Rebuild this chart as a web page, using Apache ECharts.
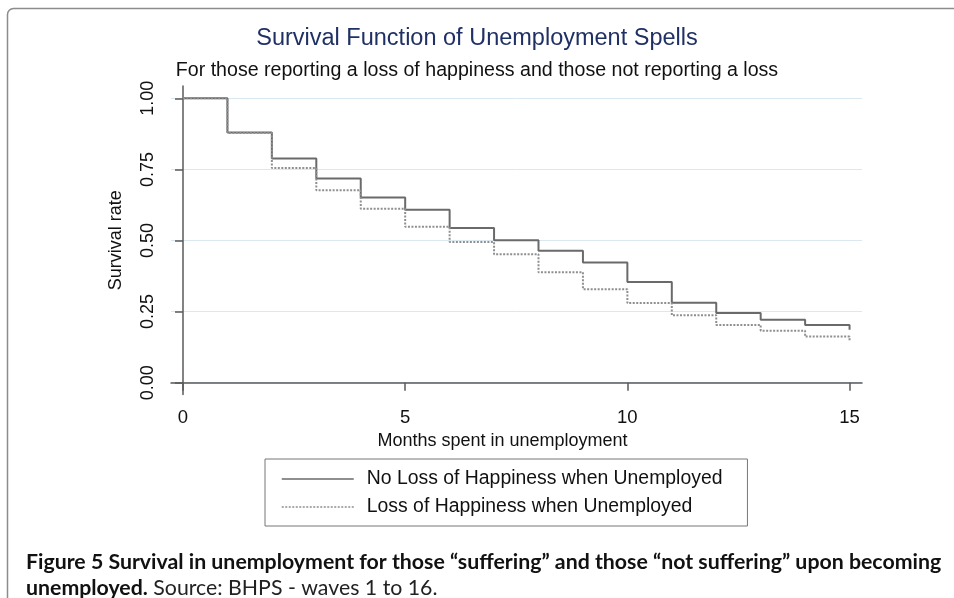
<!DOCTYPE html>
<html><head><meta charset="utf-8">
<script src="https://cdn.jsdelivr.net/npm/echarts@6/dist/echarts.min.js"></script>
<style>html,body{margin:0;padding:0;background:#fff}#c{width:954px;height:598px}</style>
</head><body><div id="c"></div>
<script>
// ---- data ----
const months = [0,1,2,3,4,5,6,7,8,9,10,11,12,13,14,15];
const noLossSurvival = [1.00,0.880,0.788,0.718,0.651,0.608,0.544,0.501,0.464,0.423,0.354,0.281,0.245,0.221,0.203,0.186];
const lossSurvival   = [1.00,0.878,0.755,0.677,0.612,0.548,0.495,0.452,0.388,0.329,0.280,0.237,0.203,0.183,0.162,0.145];
const seriesNames = ['No Loss of Happiness when Unemployed','Loss of Happiness when Unemployed'];
const xTickValues = [0,5,10,15];
const yTickValues = [0,0.25,0.5,0.75,1];
const titleText = 'Survival Function of Unemployment Spells';
const subtitleText = 'For those reporting a loss of happiness and those not reporting a loss';
const xAxisTitle = 'Months spent in unemployment';
const yAxisTitle = 'Survival rate';
const captionBold1 = 'Figure 5 Survival in unemployment for those \u201Csuffering\u201D and those \u201Cnot suffering\u201D upon becoming';
const captionBold2 = 'unemployed.';
const captionNormal = ' Source: BHPS - waves 1 to 16.';

const SANS = "'Liberation Sans', Arial, Helvetica, sans-serif";
const CAP = "Lato, 'Noto Sans', sans-serif";

const chart = echarts.init(document.getElementById('c'), null, {renderer:'canvas'});
const axisLineStyle = {color:'#5a5a5a', width:1.5};
chart.setOption({
  animation:false,
  backgroundColor:'#fff',
  graphic:[{
    type:'rect', silent:true, z:-10,
    shape:{x:7.5, y:8.5, width:1000, height:700, r:6},
    style:{fill:'none', stroke:'#8c8c8c', lineWidth:1.5}
  }],
  title:[
    {text:titleText, left:'center', top:22,
     textStyle:{fontFamily:SANS, fontSize:23.5, fontWeight:'normal', color:'#1f3064'}},
    {text:subtitleText, left:'center', top:56,
     textStyle:{fontFamily:SANS, fontSize:19.6, fontWeight:'normal', color:'#111'}},
    {text:'{b|'+captionBold1+'}\n{b|'+captionBold2+'}{n|'+captionNormal+'}',
     left:21, top:544,
     textStyle:{rich:{
       b:{fontFamily:CAP, fontWeight:'bold', fontSize:21.3, color:'#111', lineHeight:26},
       n:{fontFamily:CAP, fontWeight:'normal', fontSize:21.3, color:'#222', lineHeight:26}
     }}}
  ],
  legend:{
    orient:'vertical', left:265, top:459,
    padding:[10,25,9,16], itemGap:8,
    itemWidth:72, itemHeight:14,
    borderColor:'#777', borderWidth:1, borderRadius:0,
    itemStyle:{opacity:0},
    lineStyle:{width:1.5},
    textStyle:{fontFamily:SANS, fontSize:19.4, color:'#111', lineHeight:20, padding:[0,0,0,8]},
    data:[seriesNames[0], seriesNames[1]]
  },
  grid:{left:171, top:86, right:92, bottom:203.5, containLabel:false},
  xAxis:{
    type:'value', min:-0.27, max:15.28,
    axisLine:{lineStyle:axisLineStyle},
    axisTick:{show:true, length:8, customValues:xTickValues, lineStyle:axisLineStyle},
    axisLabel:{customValues:xTickValues, margin:14, fontFamily:SANS, fontSize:18.5, color:'#111'},
    splitLine:{show:false},
    name:xAxisTitle, nameLocation:'middle', nameGap:38,
    nameTextStyle:{fontFamily:SANS, fontSize:18, color:'#111', padding:[0,28,0,0]}
  },
  yAxis:{
    type:'value', min:-0.0415, max:1.0432,
    axisLine:{show:true, lineStyle:axisLineStyle},
    axisTick:{show:true, length:8, customValues:yTickValues, lineStyle:axisLineStyle},
    axisLabel:{customValues:yTickValues, rotate:90, margin:14, fontFamily:SANS, fontSize:18, color:'#111',
      formatter:v=>Number(v).toFixed(2)},
    splitLine:{show:true, lineStyle:{color:'#d9e8f1', width:1}},
    name:yAxisTitle, nameLocation:'middle', nameGap:46,
    nameTextStyle:{fontFamily:SANS, fontSize:18, color:'#111'}
  },
  series:[
    {name:seriesNames[0], type:'line', step:'end', symbol:'none',
     data:months.map((m,i)=>[m,noLossSurvival[i]]),
     lineStyle:{color:'#6a6a6a', width:2}, itemStyle:{color:'#6a6a6a'}},
    {name:seriesNames[1], type:'line', step:'end', symbol:'none',
     data:months.map((m,i)=>[m,lossSurvival[i]]),
     lineStyle:{color:'#8f8f8f', width:2, type:[2,1.5]}, itemStyle:{color:'#8f8f8f'}}
  ]
});
</script>
</body></html>
